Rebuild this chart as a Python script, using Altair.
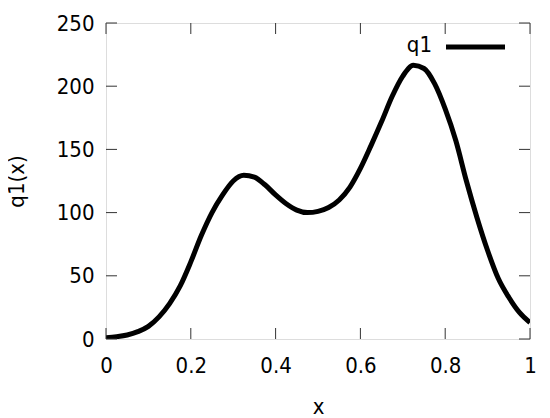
import altair as alt
import pandas as pd

# Curve values
xs = [0.0, 0.025, 0.05, 0.075, 0.1, 0.125, 0.15, 0.175, 0.2, 0.225, 0.25, 0.275,
      0.3, 0.325, 0.35, 0.375, 0.4, 0.425, 0.45, 0.475, 0.5, 0.525, 0.55, 0.575,
      0.6, 0.625, 0.65, 0.675, 0.7, 0.725, 0.75, 0.775, 0.8, 0.825, 0.85, 0.875,
      0.9, 0.925, 0.95, 0.975, 1.0]
q1 = [1, 1.8, 3.2, 5.8, 10, 17.5, 28, 42, 61, 82, 100, 114,
      125, 129.5, 128, 122, 114, 107, 102, 100, 101, 104, 110, 120,
      135, 153, 172, 192, 208, 216.5, 214, 202, 182, 157, 125, 96,
      70, 48, 33, 21, 13]

x_ticks = [0, 0.2, 0.4, 0.6, 0.8, 1]
y_ticks = [0, 50, 100, 150, 200, 250]
legend_label = "q1"

W, H = 424, 316
FONT = "DejaVu Sans Condensed"
FS = 22

df = pd.DataFrame({"x": xs, "q1": q1})
xt = pd.DataFrame({"t": x_ticks})
yt = pd.DataFrame({"t": y_ticks})

xscale = alt.Scale(domain=[0, 1], nice=False, zero=False)
yscale = alt.Scale(domain=[0, 250], nice=False, zero=False)

line = alt.Chart(df).mark_line(color="black", strokeWidth=5, clip=True,
                               interpolate="monotone").encode(
    x=alt.X("x:Q", scale=xscale, title="x",
            axis=alt.Axis(values=x_ticks, format="~g", ticks=False, domain=False,
                          grid=False, labelPadding=16, labelFontSize=FS,
                          labelFont=FONT, labelColor="black", titleFontSize=FS,
                          titleFont=FONT, titleFontWeight="normal",
                          titleColor="black", titleY=74,
                          titleBaseline="alphabetic", labelFlush=False,
                          labelOverlap=False)),
    y=alt.Y("q1:Q", scale=yscale, title="q1(x)",
            axis=alt.Axis(values=y_ticks, format="d", ticks=False, domain=False,
                          grid=False, labelPadding=12, labelFontSize=FS,
                          labelFont=FONT, labelColor="black", titleFontSize=FS,
                          titleFont=FONT, titleFontWeight="normal",
                          titleColor="black", titleAngle=270, titleX=-83,
                          titleY=158, titleAlign="center",
                          titleBaseline="alphabetic", labelFlush=False,
                          labelOverlap=False)),
)

tick_col = "#333333"
xb = alt.Chart(xt).mark_rule(color=tick_col, strokeWidth=1).encode(
    x=alt.X("t:Q", scale=xscale), y=alt.value(H), y2=alt.value(H - 11))
xtop = alt.Chart(xt).mark_rule(color=tick_col, strokeWidth=1).encode(
    x=alt.X("t:Q", scale=xscale), y=alt.value(0), y2=alt.value(11))
yl = alt.Chart(yt).mark_rule(color=tick_col, strokeWidth=1).encode(
    y=alt.Y("t:Q", scale=yscale), x=alt.value(0), x2=alt.value(11))
yr = alt.Chart(yt).mark_rule(color=tick_col, strokeWidth=1).encode(
    y=alt.Y("t:Q", scale=yscale), x=alt.value(W), x2=alt.value(W - 11))

leg_df = pd.DataFrame({"label": [legend_label]})
leg_text = alt.Chart(leg_df).mark_text(
    align="right", baseline="alphabetic", fontSize=FS, font=FONT, color="black"
).encode(text="label:N", x=alt.value(326), y=alt.value(29))
leg_line = alt.Chart(leg_df).mark_rule(color="black", strokeWidth=5).encode(
    x=alt.value(340), x2=alt.value(399), y=alt.value(24))

chart = alt.layer(line, xb, xtop, yl, yr, leg_text, leg_line).properties(
    width=W, height=H,
    autosize=alt.AutoSizeParams(type="none"),
    padding={"left": 98, "top": 15, "right": 12, "bottom": 79},
).configure_view(stroke="#333333", strokeWidth=1).configure(background="white")

chart.save("out.html", embed_options={"renderer": "svg", "actions": False})
